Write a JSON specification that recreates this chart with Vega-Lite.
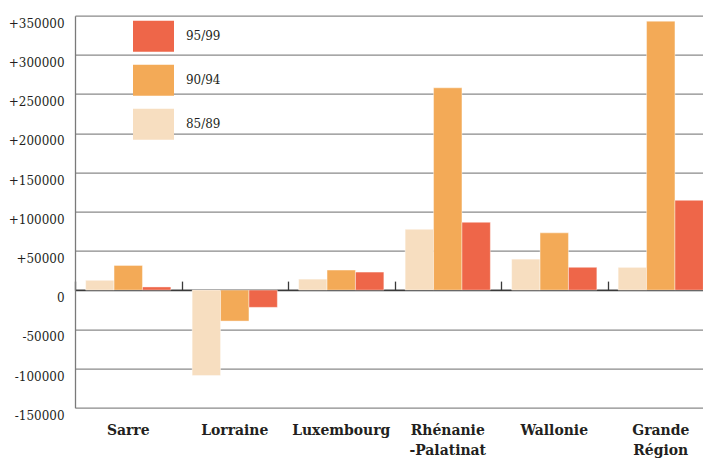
{
  "$schema": "https://vega.github.io/schema/vega-lite/v6.json",
  "width": 639,
  "height": 392,
  "autosize": "none",
  "padding": {"left": 75, "top": 15.7, "right": 0, "bottom": 51.3},
  "background": "#ffffff",
  "config": {"view": {"stroke": null}, "font": "DejaVu Serif Condensed, DejaVu Serif, serif"},
  "data": {
    "values": [
      {"region": "Sarre", "period": "85/89", "value": 12500},
      {"region": "Sarre", "period": "90/94", "value": 31500},
      {"region": "Sarre", "period": "95/99", "value": 4000},
      {"region": "Lorraine", "period": "85/89", "value": -109000},
      {"region": "Lorraine", "period": "90/94", "value": -39500},
      {"region": "Lorraine", "period": "95/99", "value": -22000},
      {"region": "Luxembourg", "period": "85/89", "value": 14000},
      {"region": "Luxembourg", "period": "90/94", "value": 25500},
      {"region": "Luxembourg", "period": "95/99", "value": 23000},
      {"region": "Rhénanie-Palatinat", "period": "85/89", "value": 77500},
      {"region": "Rhénanie-Palatinat", "period": "90/94", "value": 258000},
      {"region": "Rhénanie-Palatinat", "period": "95/99", "value": 86500},
      {"region": "Wallonie", "period": "85/89", "value": 39500},
      {"region": "Wallonie", "period": "90/94", "value": 73000},
      {"region": "Wallonie", "period": "95/99", "value": 29000},
      {"region": "Grande Région", "period": "85/89", "value": 29000},
      {"region": "Grande Région", "period": "90/94", "value": 343000},
      {"region": "Grande Région", "period": "95/99", "value": 114500}
    ]
  },
  "layer": [
    {
      "mark": {"type": "bar", "stroke": "#ffffff", "strokeWidth": 0.8, "strokeOpacity": 0.5},
      "encoding": {
        "x": {
          "field": "region",
          "type": "nominal",
          "sort": ["Sarre", "Lorraine", "Luxembourg", "Rhénanie-Palatinat", "Wallonie", "Grande Région"],
          "scale": {"paddingInner": 0, "paddingOuter": 0},
          "axis": {
            "orient": "bottom",
            "title": null,
            "domain": false,
            "ticks": false,
            "labelAngle": 0,
            "labelPadding": 15,
            "labelBaseline": "top",
            "labelFont": "DejaVu Serif Condensed, DejaVu Serif, serif",
            "labelFontWeight": "bold",
            "labelFontSize": 15.5,
            "labelLineHeight": 20,
            "labelColor": "#231f20",
            "labelExpr": "datum.value == 'Rhénanie-Palatinat' ? ['Rhénanie', '-Palatinat'] : datum.value == 'Grande Région' ? ['Grande', 'Région'] : datum.label"
          }
        },
        "xOffset": {
          "field": "period",
          "type": "nominal",
          "sort": ["85/89", "90/94", "95/99"],
          "scale": {"paddingInner": 0, "paddingOuter": 0.375}
        },
        "y": {
          "field": "value",
          "type": "quantitative",
          "scale": {"domain": [-150000, 350000], "nice": false},
          "axis": {
            "title": null,
            "values": [-150000, -100000, -50000, 0, 50000, 100000, 150000, 200000, 250000, 300000, 350000],
            "grid": true,
            "gridColor": "#8a8a8a",
            "gridWidth": 1.3,
            "domain": true,
            "domainColor": "#7a7a7a",
            "domainWidth": 1.3,
            "ticks": false,
            "labelPadding": 11,
            "labelOffset": 7.5,
            "labelFlush": false,
            "labelOverlap": false,
            "labelFont": "DejaVu Serif Condensed, DejaVu Serif, serif",
            "labelFontSize": 13.3,
            "labelColor": "#231f20",
            "labelExpr": "datum.value > 0 ? '+' + datum.value : '' + datum.value"
          }
        },
        "color": {
          "field": "period",
          "type": "nominal",
          "scale": {"domain": ["95/99", "90/94", "85/89"], "range": ["#ee6649", "#f3aa57", "#f7dec0"]},
          "legend": {
            "title": null,
            "orient": "none",
            "legendX": 58,
            "legendY": 0,
            "padding": 0,
            "rowPadding": 8,
            "symbolType": "M-1,-0.756H1V0.756H-1Z",
            "symbolSize": 1681,
            "symbolStrokeWidth": 0,
            "symbolOpacity": 1,
            "labelOffset": 12,
            "labelFont": "DejaVu Serif Condensed, DejaVu Serif, serif",
            "labelFontSize": 13.3,
            "labelColor": "#231f20"
          }
        }
      }
    },
    {
      "mark": {"type": "text"},
      "encoding": {
        "x": {
          "field": "region",
          "type": "nominal",
          "sort": ["Sarre", "Lorraine", "Luxembourg", "Rhénanie-Palatinat", "Wallonie", "Grande Région"],
          "axis": {
            "orient": "top",
            "offset": -274.4,
            "title": null,
            "labels": false,
            "tickBand": "extent",
            "ticks": true,
            "tickSize": 9,
            "tickColor": "#3a3a3a",
            "tickWidth": 1.3,
            "domain": true,
            "domainColor": "#3a3a3a",
            "domainWidth": 1.5
          }
        },
        "text": {"value": ""}
      }
    }
  ],
  "resolve": {"axis": {"x": "independent"}}
}
